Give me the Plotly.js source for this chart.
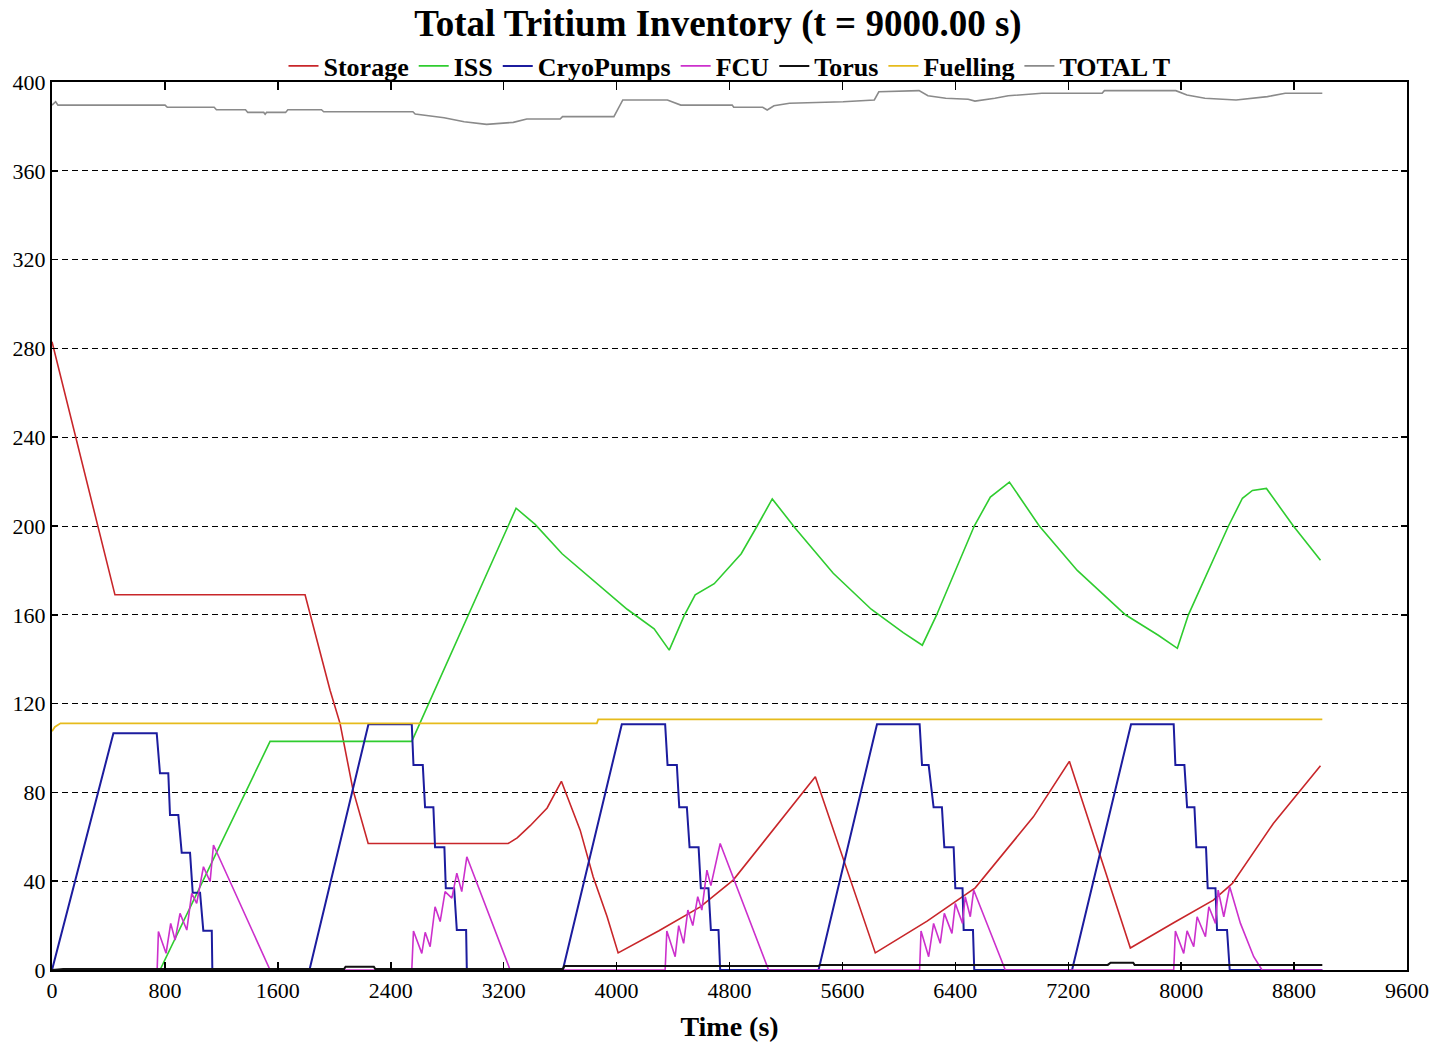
<!DOCTYPE html>
<html>
<head>
<meta charset="utf-8">
<script src="https://cdn.plot.ly/plotly-3.0.1.min.js"></script>
<style>
html,body{margin:0;padding:0;background:#fff;}
#chart{width:1436px;height:1045px;}
</style>
</head>
<body>
<div id="chart"></div>
<script>
// ---- data (time in s, tritium inventory in g) ----
const seriesNames = ["Storage","ISS","CryoPumps","FCU","Torus","Fuelling","TOTAL T"];

const storageT = [0,446,1793,1970,2041,2133,2240,3232,3296,3388,3508,3609,3742,3834,3933,4011,4300,4593,4826,5100,5408,5833,6200,6541,6953,7208,7640,7950,8228,8363,8653,8987];
const storageV = [283,169,169,126,111,81,57,57,59.5,65,73,85,63,42,24,7.7,17.7,28.4,40.5,62.4,87,7.7,22,37,69,94,9.9,21.4,31.5,39,66,92];

const issT = [0,765,1545,2549,3288,3423,3614,3884,4075,4266,4373,4479,4557,4692,4883,4996,5103,5266,5535,5804,6031,6166,6265,6534,6648,6783,6995,7264,7605,7838,7973,8051,8335,8434,8505,8604,8795,8987];
const issV = [0,0,103,103,208,200.7,187.5,172.8,162.5,153.7,144.1,159.6,169,174,187.5,200,212.2,199,178.7,162.5,152,146.3,159.6,200,213,219.8,200,180,160,150.8,144.9,160,200,212.5,216,216.9,200,184.6];

const cryoT = [0,435,742,765,824,836,895,919,978,997,1049,1072,1132,1136,1824,
  2242,2549,2561,2627,2643,2702,2714,2780,2790,2849,2868,2934,2939,3619,
  4037,4344,4361,4427,4444,4498,4517,4581,4597,4651,4668,4722,4734,5431,
  5845,6147,6164,6211,6246,6305,6322,6388,6400,6451,6459,6525,6534,7227,
  7645,7947,7959,8023,8042,8094,8108,8176,8188,8243,8254,8325,8344,9000];
const cryoV = [0,106.6,106.6,88.6,88.6,69.8,69.8,52.8,52.8,34.8,34.8,17.7,17.7,0,0,
  110.7,110.7,92.3,92.3,73.3,73.3,55.3,55.3,36.8,36.8,18,18,0,0,
  110.7,110.7,92.3,92.3,73.3,73.3,55.3,55.3,36.8,36.8,18,18,0,0,
  110.7,110.7,92.3,92.3,73.3,73.3,55.3,55.3,36.8,36.8,18,18,0,0,
  110.7,110.7,92.3,92.3,73.3,73.3,55.3,55.3,36.8,36.8,18,18,0,0];

const fcuT = [0,745,754,808,841,872,907,955,990,1025,1073,1120,1144,1545,
  2549,2561,2620,2644,2679,2714,2750,2785,2833,2868,2903,2939,3246,
  4344,4356,4415,4440,4475,4505,4540,4575,4604,4640,4668,4734,5077,
  6147,6157,6211,6246,6293,6322,6376,6400,6451,6470,6506,6530,6754,
  7947,7959,8018,8042,8089,8113,8172,8196,8243,8262,8302,8344,8420,8514,8573,9000];
const fcuV = [0,0,17.3,7.5,21,13.5,25.5,18,34.5,30,46.5,39.8,56.3,0,
  0,17.6,7.5,17,10.5,28.5,21.8,35.3,32.4,43.6,35.3,51,0,
  0,17.6,6,20,12,27,20,33,27,45,38,57,0,
  0,17.6,6,21,12,25.5,16.5,30,21,33,24,36,0,
  0,17.6,7.5,17.6,10.5,24,15,28.5,21,36,24,37.5,21,6,0,0];

const torusT = [0,80,2070,2080,2280,2290,3620,3630,5431,5440,7480,7500,7660,7670,9000];
const torusV = [0,0.5,0.5,1.5,1.5,0.5,0.5,1.8,1.8,2.3,2.3,3.3,3.3,2.3,2.3];

const fuelT = [0,20,60,3860,3870,9000];
const fuelV = [107.5,109.5,111.1,111.1,112.9,112.9];

const totalT = [0,26,42,801,817,1149,1165,1371,1387,1500,1510,1520,1655,1671,1909,1925,2557,2573,2668,2778,2920,3079,3268,3364,3600,3617,3981,4044,4360,4455,4819,4830,5035,5067,5115,5225,5605,5826,5858,6143,6206,6332,6491,6539,6680,6775,7013,7440,7456,7962,8041,8168,8389,8611,8737,9000];
const totalV = [389.6,391.1,389.6,389.6,388.6,388.6,387.5,387.5,386.3,386.3,385.5,386.3,386.3,387.5,387.5,386.6,386.6,385.6,384.8,383.9,382.1,380.9,381.8,383.3,383.3,384.4,384.4,391.9,391.9,389.6,389.6,388.6,388.6,387.4,389.3,390.4,391.1,391.9,395.6,396.1,393.8,392.7,392.2,391.4,392.7,393.8,394.9,394.9,396.1,396.1,394.1,392.7,391.9,393.4,394.9,394.9];

const xTicks = [0,800,1600,2400,3200,4000,4800,5600,6400,7200,8000,8800,9600];
const yTicks = [0,40,80,120,160,200,240,280,320,360,400];

// ---- styles ----
const colors = ["#c8262a","#2fcc2f","#1c1c9e","#cc30cc","#111111","#e6bb1c","#8a8a8a"];
const widths = [1.6,1.6,2,1.6,2,1.8,1.6];
const xs = [storageT,issT,cryoT,fcuT,torusT,fuelT,totalT];
const ys = [storageV,issV,cryoV,fcuV,torusV,fuelV,totalV];

const FONT = "Liberation Serif, Times New Roman, serif";

const traces = seriesNames.map((n,i)=>({
  type:"scatter", mode:"lines", name:n, x:xs[i], y:ys[i],
  line:{color:colors[i], width:widths[i]}, hoverinfo:"skip"
}));

const layout = {
  width:1436, height:1045,
  margin:{l:52, r:29, t:82, b:75, autoexpand:false},
  paper_bgcolor:"#fff", plot_bgcolor:"#fff",
  showlegend:true,
  title:{text:"<b>Total Tritium Inventory (t = 9000.00 s)</b>",
    font:{family:FONT, size:37, color:"#000"},
    x:0.5, xref:"container", xanchor:"center", y:1-23/1045, yref:"container", yanchor:"middle"},
  legend:{orientation:"h", x:0.5, xref:"paper", xanchor:"center",
    y:1-66/1045, yref:"container", yanchor:"middle",
    font:{family:FONT, size:26, color:"#000", weight:"bold"},
    itemwidth:30, bgcolor:"rgba(0,0,0,0)", tracegroupgap:0},
  xaxis:{range:[0,9600], tickvals:xTicks, ticktext:xTicks.map(String),
    ticks:"inside", ticklen:8, tickwidth:1.5, tickcolor:"#000",
    showline:true, linecolor:"#000", linewidth:2, mirror:"ticks",
    showgrid:false, zeroline:false,
    tickfont:{family:FONT, size:22, color:"#000"},
    title:{text:"<b>Time (s)</b>", font:{family:FONT, size:28, color:"#000"}, standoff:14}},
  yaxis:{range:[0,400], tickvals:yTicks, ticktext:yTicks.map(String),
    ticks:"inside", ticklen:6, tickwidth:1.5, tickcolor:"#000",
    showline:true, linecolor:"#000", linewidth:2, mirror:"ticks",
    showgrid:true, gridcolor:"#000", gridwidth:1, griddash:"6px,4px",
    zeroline:false,
    tickfont:{family:FONT, size:22, color:"#000"}}
};

Plotly.newPlot("chart", traces, layout, {displayModeBar:false, staticPlot:true});
</script>
</body>
</html>
